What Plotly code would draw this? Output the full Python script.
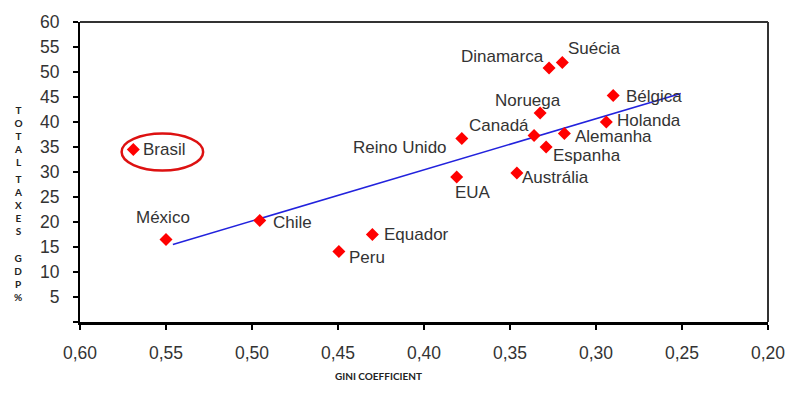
import plotly.graph_objects as go

countries = ["Brasil", "México", "Chile", "Equador", "Peru", "Reino Unido", "EUA",
             "Austrália", "Canadá", "Noruega", "Espanha", "Dinamarca", "Suécia",
             "Alemanha", "Holanda", "Bélgica"]
gini = [0.569, 0.550, 0.4955, 0.430, 0.4495, 0.378, 0.381,
        0.346, 0.336, 0.3325, 0.329, 0.3273, 0.3196,
        0.3184, 0.294, 0.290]
taxes = [34.5, 16.5, 20.3, 17.5, 14.1, 36.7, 29.0,
         29.8, 37.3, 41.8, 35.0, 50.8, 51.9,
         37.7, 40.0, 45.3]

trend_x = [0.546, 0.2507]
trend_y = [15.5, 45.7]

x_ticks = [0.60, 0.55, 0.50, 0.45, 0.40, 0.35, 0.30, 0.25, 0.20]
y_ticks = [0, 5, 10, 15, 20, 25, 30, 35, 40, 45, 50, 55, 60]
y_ticktext = ["", "5", "10", "15", "20", "25", "30", "35", "40", "45", "50", "55", "60"]

highlight_x = [0.5758, 0.5284]
highlight_y = [30.3, 37.7]

# label placement (anchor, x offset px, y offset px)
label_style = {
    "Brasil": ("left", 8, 0),
    "México": ("center", -3, 22),
    "Chile": ("left", 11, -2),
    "Equador": ("left", 10, 0),
    "Peru": ("left", 8, -6),
    "Reino Unido": ("right", -13, -9),
    "EUA": ("left", -4, -15),
    "Austrália": ("left", 3, -4),
    "Canadá": ("right", -3, 10),
    "Noruega": ("center", -12, 13),
    "Espanha": ("left", 5, -8),
    "Dinamarca": ("right", -3, 12),
    "Suécia": ("left", 4, 14),
    "Alemanha": ("left", 9, -2.5),
    "Holanda": ("left", 9, 2),
    "Bélgica": ("left", 11, -1),
}

FONT = "Liberation Sans, Arial, sans-serif"
TXT = "#333333"
W, H = 797, 394
ML, MR, MT, MB = 80, 24, 18, 72
plot_w = W - ML - MR
plot_h = H - MT - MB

fig = go.Figure()
fig.add_trace(go.Scatter(x=trend_x, y=trend_y, mode="lines",
                         line=dict(color="#2222dd", width=1.6),
                         hoverinfo="skip", showlegend=False))
fig.add_trace(go.Scatter(x=gini, y=taxes, mode="markers", text=countries,
                         marker=dict(symbol="diamond", size=10, color="#ff0000"),
                         showlegend=False))

annotations = []
for c, gx, ty in zip(countries, gini, taxes):
    anchor, dx, dy = label_style[c]
    annotations.append(dict(x=gx, y=ty, xref="x", yref="y", text=c, showarrow=False,
                            xanchor=anchor, yanchor="middle", xshift=dx, yshift=dy,
                            font=dict(family=FONT, size=17, color=TXT)))

title_font = dict(family="Lato, Open Sans, sans-serif", size=10, color="#222222")


def px_to_paper(px, py):
    return (px - ML) / plot_w, 1 - (py - MT) / plot_h


for word, yc in [("T<br>O<br>T<br>A<br>L", 134), ("T<br>A<br>X<br>E<br>S", 203),
                 ("G<br>D<br>P<br>%", 277)]:
    ax, ay = px_to_paper(18, yc)
    annotations.append(dict(x=ax, y=ay, xref="paper", yref="paper", text="<b>" + word + "</b>",
                            showarrow=False, xanchor="center", yanchor="middle",
                            font=title_font))
tx, ty = px_to_paper(380.5, 377)
annotations.append(dict(x=tx, y=ty, xref="paper", yref="paper", text="<b>GINI COEFFICIENT</b>",
                        showarrow=False, xanchor="center", yanchor="middle", font=title_font))

fig.update_layout(
    width=W, height=H,
    margin=dict(l=ML, r=MR, t=MT, b=MB),
    paper_bgcolor="white", plot_bgcolor="white",
    separators=",.",
    annotations=annotations,
    shapes=[
        dict(type="circle", xref="x", yref="y", x0=highlight_x[0], x1=highlight_x[1],
             y0=highlight_y[0], y1=highlight_y[1], line=dict(color="#dd1111", width=2.5)),
        dict(type="line", xref="paper", yref="paper", x0=0, x1=1, y0=1, y1=1,
             line=dict(color="#333333", width=2)),
        dict(type="line", xref="paper", yref="paper", x0=1, x1=1, y0=0, y1=1,
             line=dict(color="#333333", width=2)),
    ],
)

fig.update_xaxes(range=[0.60, 0.20], tickvals=x_ticks, tickformat=".2f",
                 showgrid=False, zeroline=False, showline=True, linecolor="black", linewidth=3,
                 ticks="outside", ticklen=5, tickwidth=1.5, tickcolor="black",
                 ticklabelstandoff=8,
                 tickfont=dict(family=FONT, size=17.5, color=TXT))
fig.update_yaxes(range=[0, 60], tickvals=y_ticks, ticktext=y_ticktext,
                 showgrid=False, zeroline=False, showline=True, linecolor="black", linewidth=2,
                 ticks="outside", ticklen=5, tickwidth=1.5, tickcolor="black",
                 ticklabelstandoff=10,
                 tickfont=dict(family=FONT, size=17.5, color=TXT))

fig.write_html("out.html", config={"displayModeBar": False},
               post_script="document.body.style.margin='0';")
